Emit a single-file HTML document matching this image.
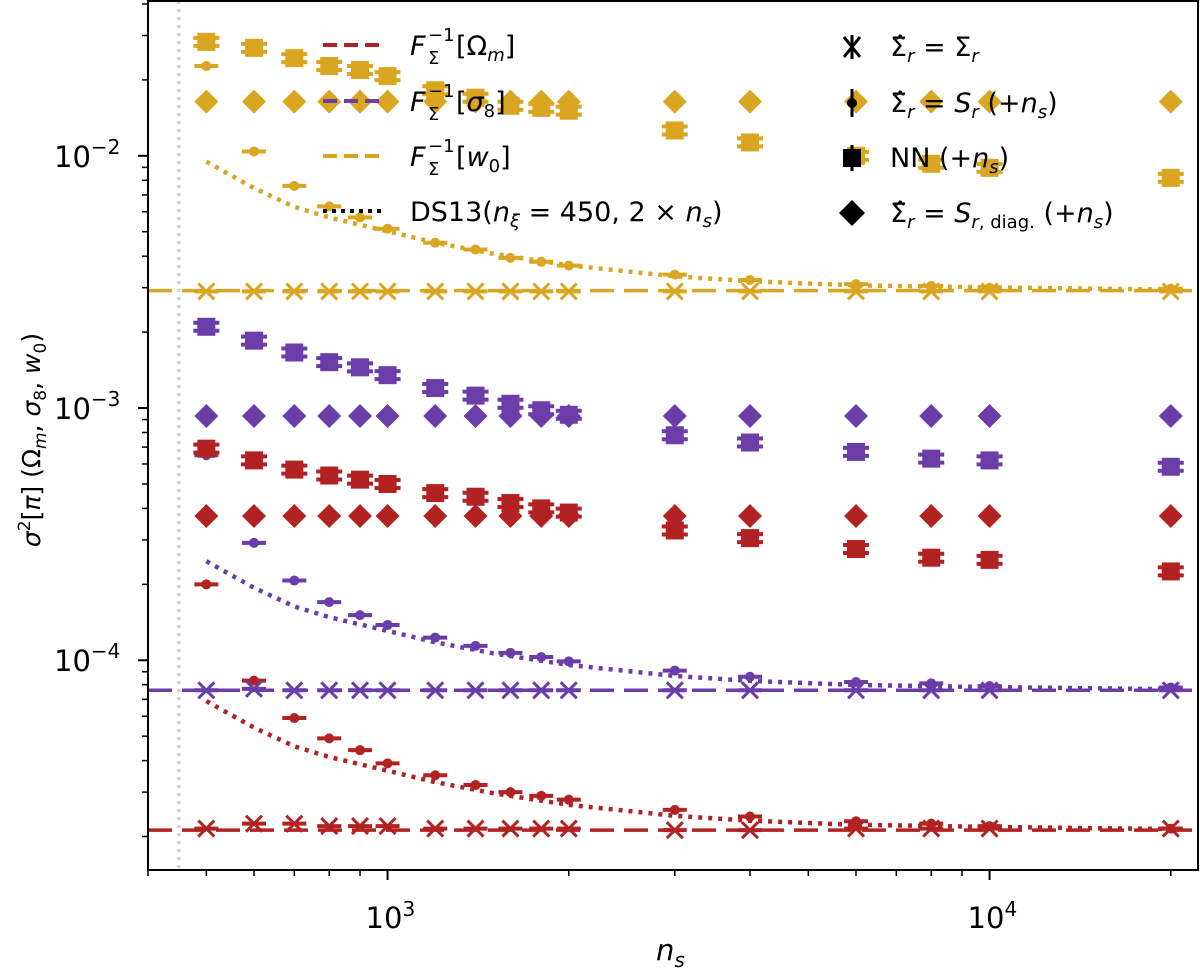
<!DOCTYPE html>
<html><head><meta charset="utf-8"><style>
body{margin:0;background:#fff;}
svg text{font-family:"DejaVu Sans","Liberation Sans",sans-serif;fill:#000;}
</style></head><body>
<svg id="chart" width="1200" height="968" viewBox="0 0 1200 968" xmlns="http://www.w3.org/2000/svg">
<g id="plot"></g>
<g id="axes"></g>
<g id="legend"></g>
</svg>
<script>
const ns = [500,600,700,800,900,1000,1200,1400,1600,1800,2000,3000,4000,6000,8000,10000,20000];
const fisherVals = [2.12e-5, 7.6e-5, 2.92e-3];
const crossRed = [2.15e-5,2.25e-5,2.25e-5,2.2e-5,2.2e-5,2.2e-5,2.15e-5,2.15e-5,2.15e-5,2.15e-5,2.15e-5,2.12e-5,2.12e-5,2.15e-5,2.15e-5,2.15e-5,2.15e-5];
const crossPurple = [7.6e-5,7.7e-5,7.6e-5,7.6e-5,7.6e-5,7.6e-5,7.6e-5,7.6e-5,7.6e-5,7.6e-5,7.6e-5,7.6e-5,7.6e-5,7.6e-5,7.6e-5,7.6e-5,7.6e-5];
const crossGold = [2.9e-3,2.9e-3,2.9e-3,2.9e-3,2.9e-3,2.9e-3,2.9e-3,2.9e-3,2.9e-3,2.9e-3,2.9e-3,2.9e-3,2.9e-3,2.9e-3,2.9e-3,2.9e-3,2.9e-3];
const dotRed = [2.0e-4,8.3e-5,5.9e-5,4.9e-5,4.4e-5,3.9e-5,3.5e-5,3.2e-5,3.0e-5,2.9e-5,2.8e-5,2.55e-5,2.4e-5,2.3e-5,2.25e-5,2.2e-5,2.15e-5];
const dotPurple = [6.5e-4,2.92e-4,2.07e-4,1.7e-4,1.51e-4,1.38e-4,1.23e-4,1.14e-4,1.07e-4,1.03e-4,9.9e-5,9.1e-5,8.6e-5,8.2e-5,8.1e-5,7.9e-5,7.8e-5];
const dotGold = [0.0227,0.0104,0.0076,0.0063,0.0057,0.00514,0.00452,0.00425,0.00394,0.0038,0.00367,0.00338,0.00322,0.0031,0.00305,0.003,0.00297];
const sqRed = [6.9e-4,6.2e-4,5.7e-4,5.4e-4,5.2e-4,5.0e-4,4.6e-4,4.45e-4,4.2e-4,4.0e-4,3.85e-4,3.27e-4,3.05e-4,2.76e-4,2.55e-4,2.5e-4,2.25e-4];
const sqPurple = [2.1e-3,1.85e-3,1.66e-3,1.52e-3,1.45e-3,1.35e-3,1.2e-3,1.12e-3,1.04e-3,9.8e-4,9.4e-4,7.8e-4,7.3e-4,6.7e-4,6.3e-4,6.2e-4,5.85e-4];
const sqGold = [0.0283,0.0268,0.0244,0.0227,0.0219,0.0207,0.0182,0.017,0.0158,0.0155,0.0151,0.0126,0.0113,0.0100,0.0093,0.00896,0.00818];
const diaRed = [3.73e-4,3.73e-4,3.73e-4,3.73e-4,3.73e-4,3.73e-4,3.73e-4,3.73e-4,3.73e-4,3.73e-4,3.73e-4,3.73e-4,3.73e-4,3.73e-4,3.73e-4,3.73e-4,3.73e-4];
const diaPurple = [9.3e-4,9.3e-4,9.3e-4,9.3e-4,9.3e-4,9.3e-4,9.3e-4,9.3e-4,9.3e-4,9.3e-4,9.3e-4,9.3e-4,9.3e-4,9.3e-4,9.3e-4,9.3e-4,9.3e-4];
const diaGold = [0.0164,0.0164,0.0164,0.0164,0.0164,0.0164,0.0164,0.0164,0.0164,0.0164,0.0164,0.0164,0.0164,0.0164,0.0164,0.0164,0.0164];
const dsNs = [500,600,700,800,1000,1200,1500,2000,3000,4000,6000,10000,20000];
const dsFactor = [3.25,2.55,2.15,1.95,1.72,1.55,1.4,1.26,1.14,1.09,1.05,1.03,1.01];
const xTickLabels = ["3","4"];
const yTickExps = ["-2","-3","-4"];

const NS="http://www.w3.org/2000/svg";
const L=148,R=1198,T=1,B=870;
const xmin=Math.log10(400), xmax=Math.log10(400)+(R-L)/602;
const ytop=-2+155/252.5, ybot=-4-210/252.5;
const X=v=>L+(Math.log10(v)-xmin)/(xmax-xmin)*(R-L);
const Y=v=>T+(ytop-Math.log10(v))/(ytop-ybot)*(B-T);
const C=["#b22222","#6a3da8","#daa520"];
function el(tag,attrs,parent){const e=document.createElementNS(NS,tag);for(const k in attrs)e.setAttribute(k,attrs[k]);parent.appendChild(e);return e;}
const plot=document.getElementById('plot'), axes=document.getElementById('axes'), legend=document.getElementById('legend');

const defs=el('defs',{},plot);
const cp=el('clipPath',{id:'cp'},defs); el('rect',{x:L,y:T,width:R-L,height:B-T},cp);
const g=el('g',{'clip-path':'url(#cp)'},plot);

let vl=el('line',{x1:X(450),x2:X(450),y1:T,y2:B,stroke:'#ccc','stroke-width':3,'stroke-dasharray':'3 5'},g);



const fnames=['fisher-omega-m-line','fisher-sigma8-line','fisher-w0-line'];
fisherVals.forEach((v,i)=>{
  const l=el('line',{x1:L,x2:R,y1:Y(v),y2:Y(v),stroke:C[i],'stroke-width':3.5,'stroke-dasharray':'24 10'},g);
  
  
});
const sers=['omega-m','sigma8','w0'];
fisherVals.forEach((v,i)=>{
  const pts=dsNs.map((n,j)=>X(n)+','+Y(v*dsFactor[j])).join(' ');
  const p=el('polyline',{points:pts,fill:'none',stroke:C[i],'stroke-width':4.5,'stroke-dasharray':'4 6'},g);
  
  
});
function cap(x,y,c,w){el('line',{x1:x-w,x2:x+w,y1:y,y2:y,stroke:c,'stroke-width':4},g);}
function diamond(x,y,c,name){const p=el('polygon',{points:`${x},${y-12} ${x+12},${y} ${x},${y+12} ${x-12},${y}`,fill:c},g);}
function square(x,y,c,name){cap(x,y-4,c,13);cap(x,y+4,c,13);const p=el('rect',{x:x-9,y:y-9,width:18,height:18,fill:c},g);}
function dot(x,y,c,name){cap(x,y,c,12);const p=el('circle',{cx:x,cy:y,r:5,fill:c},g);}
function cross(x,y,c,name){cap(x,y,c,12);const p=el('path',{d:`M${x-8},${y-8}L${x+8},${y+8}M${x-8},${y+8}L${x+8},${y-8}`,stroke:c,'stroke-width':3},g);}
const diaS=[diaRed,diaPurple,diaGold], sqS=[sqRed,sqPurple,sqGold], dotS=[dotRed,dotPurple,dotGold], crS=[crossRed,crossPurple,crossGold];
for(let i=0;i<3;i++){
  ns.forEach((n,j)=>{
    cross(X(n),Y(crS[i][j]),C[i],'cross-'+sers[i]);
    dot(X(n),Y(dotS[i][j]),C[i],'dot-'+sers[i]);
  });
}
for(let i=0;i<3;i++){
  ns.forEach((n,j)=>{
    diamond(X(n),Y(diaS[i][j]),C[i],'diamond-'+sers[i]);
    square(X(n),Y(sqS[i][j]),C[i],'square-'+sers[i]);
  });
}

el('rect',{x:L,y:T,width:R-L,height:B-T,fill:'none',stroke:'#000','stroke-width':2},axes);
for(let d=2;d<=4;d++)for(let m=1;m<10;m++){const v=m*Math.pow(10,d);if(v<400||v>22100)continue;const x=X(v);
  el('line',{x1:x,x2:x,y1:B,y2:B+(m==1?10:6),stroke:'#000','stroke-width':m==1?2:1.5},axes);}
xTickLabels.forEach(e=>{const x=X(Math.pow(10,+e));const t=el('text',{x:x-22,y:928,'font-size':29},axes);
  t.innerHTML='10<tspan dy="-12" font-size="20">'+e+'</tspan>';
  
  });
for(let d=-5;d<=-1;d++)for(let m=1;m<10;m++){const v=m*Math.pow(10,d);const y=Y(v);if(y<T||y>B)continue;
  el('line',{x1:L,x2:L-(m==1?10:6),y1:y,y2:y,stroke:'#000','stroke-width':m==1?2:1.5},axes);}
yTickExps.forEach(e=>{const y=Y(Math.pow(10,+e));const t=el('text',{x:54,y:y+11,'font-size':29},axes);
  t.innerHTML='10<tspan dy="-13" font-size="20">\u2212'+e.slice(1)+'</tspan>';
  
  });
let xt=el('text',{x:656,y:960,'font-size':29,'font-style':'italic'},axes);xt.innerHTML='n<tspan dy="7" font-size="20">s</tspan>';

let yt=el('text',{x:0,y:0,'font-size':25,transform:'translate(40,440) rotate(-90)','text-anchor':'middle'},axes);
yt.innerHTML='<tspan font-style="italic">σ</tspan><tspan dy="-10" font-size="17">2</tspan><tspan dy="10">[</tspan><tspan font-style="italic">π</tspan>] (Ω<tspan dy="6" font-size="17" font-style="italic">m</tspan><tspan dy="-6">, </tspan><tspan font-style="italic">σ</tspan><tspan dy="6" font-size="17">8</tspan><tspan dy="-6">, </tspan><tspan font-style="italic">w</tspan><tspan dy="6" font-size="17">0</tspan><tspan dy="-6">)</tspan>';


const lrows=[47,103,158,213];
const finv='<tspan font-style="italic">F</tspan><tspan x="428" dy="9" font-size="18">Σ</tspan><tspan x="428" dy="-23" font-size="18">−1</tspan><tspan x="456" dy="14">[</tspan>';
const ltexts=[finv+'Ω<tspan dy="6" font-size="18" font-style="italic">m</tspan><tspan dy="-6">]</tspan>',
finv+'<tspan font-style="italic">σ</tspan><tspan dy="6" font-size="18">8</tspan><tspan dy="-6">]</tspan>',
finv+'<tspan font-style="italic">w</tspan><tspan dy="6" font-size="18">0</tspan><tspan dy="-6">]</tspan>',
'DS13(<tspan font-style="italic">n</tspan><tspan dy="6" font-size="18" font-style="italic">ξ</tspan><tspan dy="-6"> = 450, 2 × </tspan><tspan font-style="italic">n</tspan><tspan dy="6" font-size="18" font-style="italic">s</tspan><tspan dy="-6">)</tspan>'];
const lcol=[C[0],C[1],C[2],'#000'];
lrows.forEach((y,i)=>{
  el('line',{x1:323,x2:386,y1:y-2,y2:y-2,stroke:lcol[i],'stroke-width':4,'stroke-dasharray':i==3?'4 5':'14 7'},legend);
  const t=el('text',{x:410,y:y+8,'font-size':27},legend);t.innerHTML=ltexts[i];
  
});
const rrows=[47,103,158,213];
const rtexts=['Σ̂<tspan dy="6" font-size="18" font-style="italic">r</tspan><tspan dy="-6"> = Σ</tspan><tspan dy="6" font-size="18" font-style="italic">r</tspan>',
'Σ̂<tspan dy="6" font-size="18" font-style="italic">r</tspan><tspan dy="-6"> = </tspan><tspan font-style="italic">S</tspan><tspan dy="6" font-size="18" font-style="italic">r</tspan><tspan dy="-6"> (+</tspan><tspan font-style="italic">n</tspan><tspan dy="6" font-size="18" font-style="italic">s</tspan><tspan dy="-6">)</tspan>',
'NN (+<tspan font-style="italic">n</tspan><tspan dy="6" font-size="18" font-style="italic">s</tspan><tspan dy="-6">)</tspan>',
'Σ̂<tspan dy="6" font-size="18" font-style="italic">r</tspan><tspan dy="-6"> = </tspan><tspan font-style="italic">S</tspan><tspan dy="6" font-size="18"><tspan font-style="italic">r</tspan>, diag.</tspan><tspan dy="-6"> (+</tspan><tspan font-style="italic">n</tspan><tspan dy="6" font-size="18" font-style="italic">s</tspan><tspan dy="-6">)</tspan>'];
const mx=852;
el('path',{d:`M${mx-8},${47-10}L${mx+8},${47+10}M${mx-8},${47+10}L${mx+8},${47-10}M${mx},${47-12}L${mx},${47+12}`,stroke:'#000','stroke-width':3},legend);
el('line',{x1:mx,x2:mx,y1:103-14,y2:103+14,stroke:'#000','stroke-width':3},legend);el('circle',{cx:mx,cy:103,r:5,fill:'#000'},legend);
el('line',{x1:mx,x2:mx,y1:158-13,y2:158+13,stroke:'#000','stroke-width':3},legend);el('rect',{x:mx-9,y:158-9,width:18,height:18,fill:'#000'},legend);
el('polygon',{points:`${mx},${213-13} ${mx+13},213 ${mx},${213+13} ${mx-13},213`,fill:'#000'},legend);
rrows.forEach((y,i)=>{const t=el('text',{x:890,y:y+9,'font-size':27},legend);t.innerHTML=rtexts[i];
  });
</script>
</body></html>
